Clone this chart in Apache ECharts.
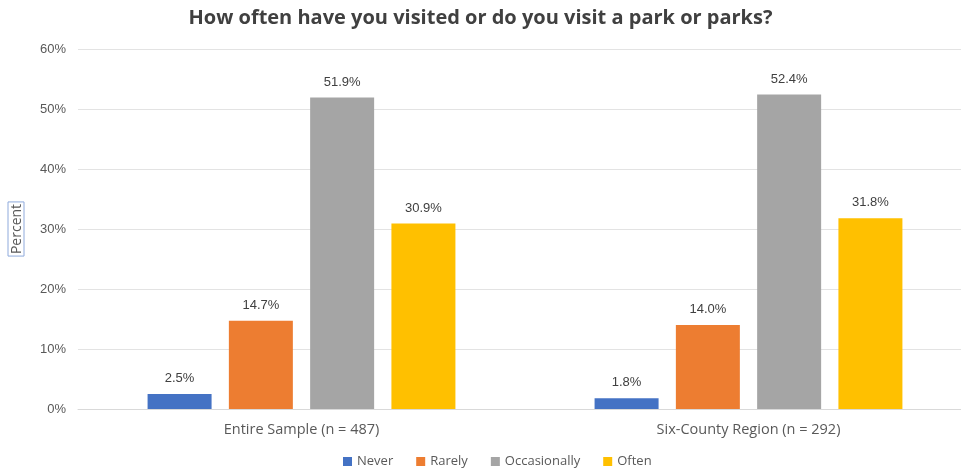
<!DOCTYPE html>
<html>
<head>
<meta charset="utf-8">
<script src="https://cdn.jsdelivr.net/npm/echarts@6/dist/echarts.min.js"></script>
<style>
  html, body { margin: 0; padding: 0; background: #fff; }
  #chart { width: 961px; height: 474px; }
</style>
</head>
<body>
<div id="chart"></div>
<script>
// data
const groups = ['Entire Sample (n = 487)', 'Six-County Region (n = 292)']
const answers = ['Never', 'Rarely', 'Occasionally', 'Often']
const never = [2.5, 1.8]
const rarely = [14.7, 14.0]
const occasionally = [51.9, 52.4]
const often = [30.9, 31.8]
const yTicks = [0, 10, 20, 30, 40, 50, 60]

const colors = ['#4472C4', '#ED7D31', '#A5A5A5', '#FFC000']
const values = [never, rarely, occasionally, often]

const chart = echarts.init(document.getElementById('chart'))

chart.setOption({
  animation: false,
  color: colors,
  title: {
    text: 'How often have you visited or do you visit a park or parks?',
    left: 'center',
    top: 3,
    textStyle: {
      fontFamily: 'Open Sans',
      fontWeight: 'bold',
      fontSize: 20,
      color: '#404040'
    }
  },
  legend: {
    bottom: 1,
    left: 338,
    itemWidth: 9,
    itemHeight: 9,
    itemGap: 23,
    icon: 'rect',
    textStyle: { fontFamily: 'Open Sans', fontSize: 13, color: '#595959' },
    data: answers
  },
  grid: {
    left: 78, width: 894, top: 49, bottom: 65,
    containLabel: false,
    outerBoundsMode: 'none'
  },
  xAxis: {
    type: 'category',
    data: groups,
    axisLine: { lineStyle: { color: '#d9d9d9' } },
    axisTick: { show: false },
    axisLabel: { fontFamily: 'Open Sans', fontSize: 14.5, color: '#595959', margin: 13 }
  },
  yAxis: {
    type: 'value',
    min: yTicks[0],
    max: yTicks[yTicks.length - 1],
    interval: 10,
    name: 'Percent',
    nameLocation: 'middle',
    nameRotate: 90,
    nameGap: 54,
    nameTextStyle: {
      fontFamily: 'Open Sans',
      fontSize: 14,
      color: '#595959',
      borderColor: '#8faadc',
      borderWidth: 1,
      padding: [2, 2, 0, 2]
    },
    axisLabel: {
      fontFamily: 'Liberation Sans',
      fontSize: 13,
      color: '#595959',
      margin: 12,
      formatter: v => v + '%'
    },
    splitLine: { lineStyle: { color: '#e3e3e3' } }
  },
  series: answers.map((name, i) => ({
    name: name,
    type: 'bar',
    data: values[i],
    barWidth: 64,
    barGap: '27%',
    label: {
      show: true,
      position: 'top',
      distance: 9,
      fontFamily: 'Liberation Sans',
      fontSize: 13,
      color: '#404040',
      formatter: p => p.value.toFixed(1) + '%'
    }
  }))
})
</script>
</body>
</html>
